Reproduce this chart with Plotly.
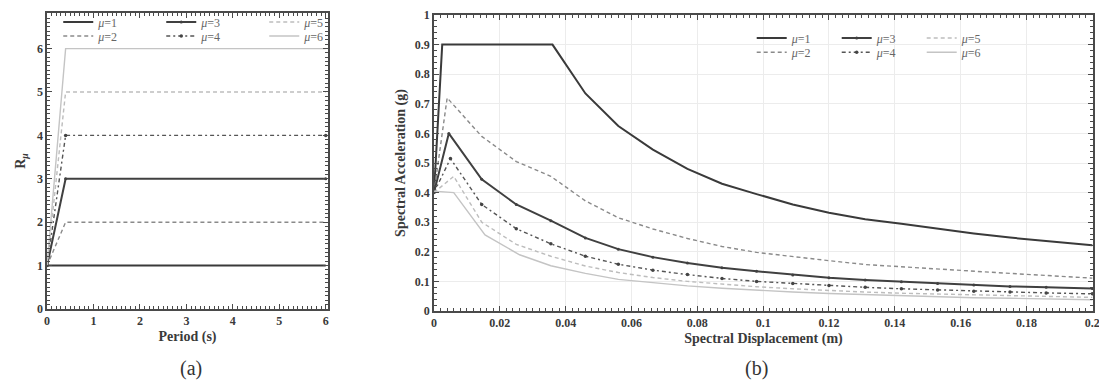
import plotly.graph_objects as go

# ---------------- Panel (a): strength reduction factor vs period ----------------
period_s = [0, 0.4, 6]
r_mu1 = [1, 1, 1]
r_mu2 = [1, 2, 2]
r_mu3 = [1, 3, 3]
r_mu4 = [1, 4, 4]
r_mu5 = [1, 5, 5]
r_mu6 = [1, 6, 6]

# ---------------- Panel (b): spectral acceleration vs spectral displacement -----
sd_mu1 = [0, 0.0025, 0.036, 0.046, 0.056, 0.0665, 0.077, 0.0875, 0.098, 0.109,
          0.12, 0.131, 0.142, 0.153, 0.164, 0.175, 0.186, 0.2]
sa_mu1 = [0.4, 0.9, 0.9, 0.735, 0.625, 0.545, 0.48, 0.43, 0.395, 0.36,
          0.332, 0.31, 0.295, 0.278, 0.262, 0.248, 0.236, 0.222]

sd_mu2 = [0, 0.004, 0.0145, 0.025, 0.0355, 0.046, 0.056, 0.0665, 0.077, 0.0875, 0.098,
          0.109, 0.12, 0.131, 0.142, 0.153, 0.164, 0.175, 0.186, 0.2]
sa_mu2 = [0.4, 0.72, 0.59, 0.505, 0.455, 0.372, 0.315, 0.277, 0.245, 0.218, 0.198,
          0.183, 0.17, 0.157, 0.149, 0.141, 0.134, 0.127, 0.12, 0.111]

sd_mu3 = [0, 0.0045, 0.0145, 0.025, 0.0355, 0.046, 0.056, 0.0665, 0.077, 0.0875, 0.098,
          0.109, 0.12, 0.131, 0.142, 0.153, 0.164, 0.175, 0.186, 0.2]
sa_mu3 = [0.4, 0.6, 0.445, 0.36, 0.305, 0.247, 0.209, 0.182, 0.162, 0.146, 0.134,
          0.122, 0.112, 0.105, 0.099, 0.093, 0.088, 0.083, 0.08, 0.076]

sd_mu4 = [0, 0.005, 0.0145, 0.025, 0.0355, 0.046, 0.056, 0.0665, 0.077, 0.0875, 0.098,
          0.109, 0.12, 0.131, 0.142, 0.153, 0.164, 0.175, 0.186, 0.2]
sa_mu4 = [0.4, 0.515, 0.36, 0.278, 0.227, 0.185, 0.158, 0.138, 0.123, 0.11, 0.1,
          0.093, 0.086, 0.08, 0.075, 0.071, 0.067, 0.064, 0.061, 0.058]

sd_mu5 = [0, 0.006, 0.0145, 0.025, 0.0355, 0.046, 0.056, 0.0665, 0.077, 0.0875, 0.098,
          0.109, 0.12, 0.131, 0.142, 0.153, 0.164, 0.175, 0.186, 0.2]
sa_mu5 = [0.4, 0.455, 0.3, 0.225, 0.185, 0.152, 0.13, 0.113, 0.1, 0.09, 0.082,
          0.075, 0.069, 0.064, 0.06, 0.057, 0.054, 0.051, 0.049, 0.046]

sd_mu6 = [0, 0.006, 0.0155, 0.026, 0.0355, 0.046, 0.056, 0.0665, 0.077, 0.0875, 0.098,
          0.109, 0.12, 0.131, 0.142, 0.153, 0.164, 0.175, 0.186, 0.2]
sa_mu6 = [0.405, 0.4, 0.257, 0.19, 0.153, 0.127, 0.107, 0.095, 0.085, 0.077, 0.07,
          0.064, 0.059, 0.055, 0.051, 0.048, 0.045, 0.043, 0.041, 0.038]

series_names = ["<i>μ</i>=1", "<i>μ</i>=2", "<i>μ</i>=3", "<i>μ</i>=4", "<i>μ</i>=5", "<i>μ</i>=6"]

styles = [
    dict(line=dict(color="#3a3a3a", width=2, dash="solid"), mode="lines"),
    dict(line=dict(color="#8a8a8a", width=1.4, dash="4px,3px"), mode="lines"),
    dict(line=dict(color="#404040", width=2, dash="solid"), mode="lines+markers",
         marker=dict(size=3, color="#404040")),
    dict(line=dict(color="#555555", width=1.4, dash="4px,3px,2px,3px"), mode="lines+markers",
         marker=dict(size=3.5, color="#444444")),
    dict(line=dict(color="#bdbdbd", width=1.4, dash="4px,3px"), mode="lines"),
    dict(line=dict(color="#c4c4c4", width=1.4, dash="solid"), mode="lines"),
]

r_series = [r_mu1, r_mu2, r_mu3, r_mu4, r_mu5, r_mu6]
b_series = [(sd_mu1, sa_mu1), (sd_mu2, sa_mu2), (sd_mu3, sa_mu3),
            (sd_mu4, sa_mu4), (sd_mu5, sa_mu5), (sd_mu6, sa_mu6)]

fig = go.Figure()

# row 1 of each legend = mu 1,3,5 ; row 2 = mu 2,4,6
for i in range(6):
    leg_a = "legend" if i % 2 == 0 else "legend2"
    leg_b = "legend3" if i % 2 == 0 else "legend4"
    fig.add_trace(go.Scatter(x=period_s, y=r_series[i], name=series_names[i],
                             xaxis="x", yaxis="y", legend=leg_a, **styles[i]))
    fig.add_trace(go.Scatter(x=b_series[i][0], y=b_series[i][1], name=series_names[i],
                             xaxis="x2", yaxis="y2", legend=leg_b, **styles[i]))

tickfont = dict(family="Liberation Serif", size=12, color="#3a3a3a", weight="bold")
titlefont = dict(family="Liberation Serif", size=14, color="#3a3a3a", weight="bold")
axis_common = dict(showline=True, linecolor="#4a4a4a", linewidth=1.5, mirror="ticks",
                   ticks="inside", ticklen=5, tickcolor="#4a4a4a", tickwidth=1.2,
                   tickfont=tickfont, zeroline=False, automargin=False,
                   ticklabeloverflow="allow")

legend_common = dict(orientation="h", bgcolor="rgba(0,0,0,0)", itemwidth=30,
                     font=dict(family="Liberation Serif", size=12, color="#666666"),
                     xanchor="left", yanchor="middle", traceorder="normal",
                     tracegroupgap=0, itemclick=False)

fig.update_layout(
    template="none",
    width=1099, height=387,
    margin=dict(l=0, r=0, t=0, b=0, autoexpand=False),
    paper_bgcolor="white", plot_bgcolor="white",
    xaxis=dict(domain=[0.0428, 0.2985], range=[0, 6.05], dtick=1, anchor="y",
               showgrid=False,
               minor=dict(ticks="inside", ticklen=3, dtick=0.1, tickcolor="#4a4a4a", showgrid=False),
               title=dict(text="Period (s)", font=titlefont, standoff=4), **axis_common),
    yaxis=dict(domain=[0.2016, 0.9664], range=[0, 6.82], dtick=1, anchor="x",
               showgrid=False,
               minor=dict(ticks="inside", ticklen=3, dtick=0.1, tickcolor="#4a4a4a", showgrid=False),
               title=dict(text="R<sub><i>μ</i></sub>", font=titlefont, standoff=8), **axis_common),
    xaxis2=dict(domain=[0.3949, 0.9945], range=[0, 0.2002], dtick=0.02, anchor="y2",
                showgrid=True, gridcolor="#ececec", gridwidth=1,
                minor=dict(ticks="inside", ticklen=3, dtick=0.002, tickcolor="#4a4a4a", showgrid=False),
                title=dict(text="Spectral Displacement (m)", font=titlefont, standoff=4), **axis_common),
    yaxis2=dict(domain=[0.1964, 0.9612], range=[0, 1], dtick=0.1, anchor="x2",
                showgrid=True, gridcolor="#ececec", gridwidth=1,
                minor=dict(ticks="inside", ticklen=3, dtick=0.02, tickcolor="#4a4a4a", showgrid=False),
                title=dict(text="Spectral Acceleration (g)", font=titlefont, standoff=6), **axis_common),
    legend=dict(x=0.053, y=0.943, entrywidth=58, **legend_common),
    legend2=dict(x=0.053, y=0.907, entrywidth=58, **legend_common),
    legend3=dict(x=0.684, y=0.902, entrywidth=40, **legend_common),
    legend4=dict(x=0.684, y=0.865, entrywidth=40, **legend_common),
    annotations=[
        dict(text="(a)", x=178 / 1099, y=1 - 368 / 387, xref="paper", yref="paper",
             yanchor="middle", showarrow=False,
             font=dict(family="Liberation Serif", size=20, color="#333333")),
        dict(text="(b)", x=770 / 1099, y=1 - 368 / 387, xref="paper", yref="paper",
             yanchor="middle", showarrow=False,
             font=dict(family="Liberation Serif", size=20, color="#333333")),
    ],
)

fig.write_html("out.html")
